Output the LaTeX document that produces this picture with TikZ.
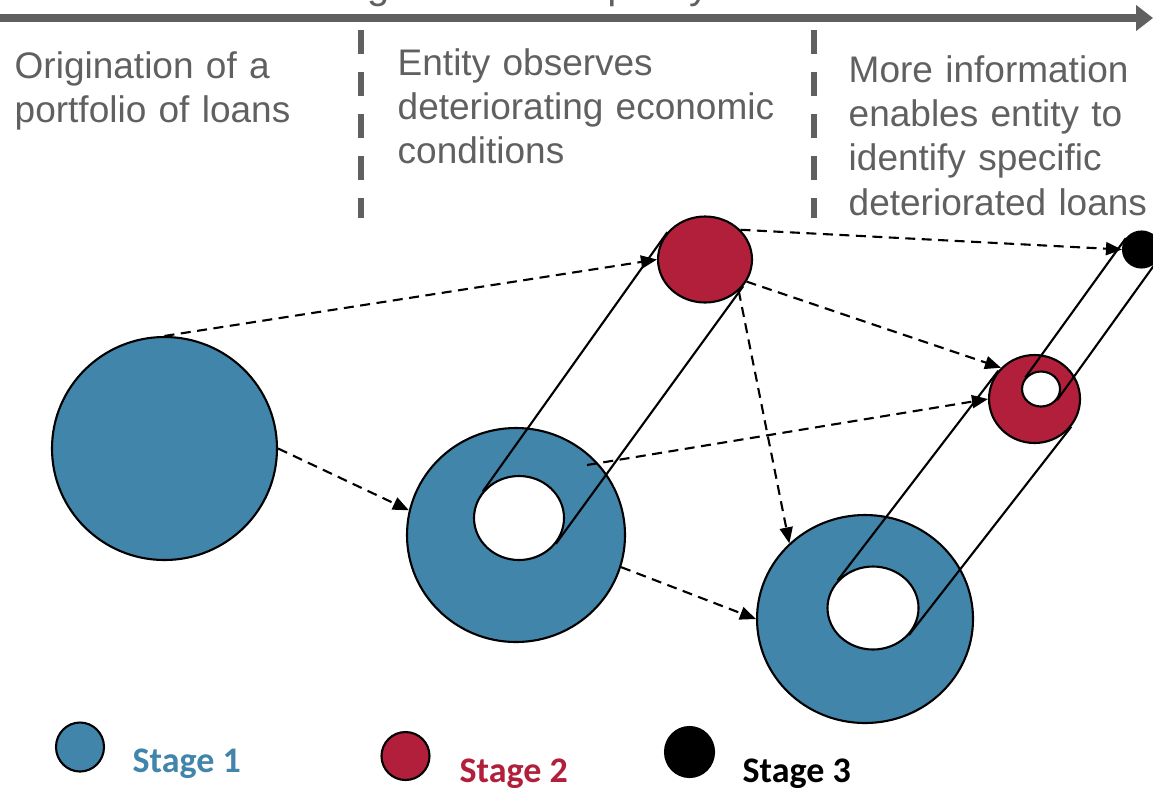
\documentclass[tikz,border=0pt]{standalone}
\usepackage{fontspec}
\setmainfont{Liberation Sans}
\newfontfamily\legendfont{Carlito}
\usetikzlibrary{shapes.geometric,arrows.meta}
\definecolor{stageblue}{RGB}{66,133,170}
\definecolor{stagered}{RGB}{177,31,58}
\definecolor{notegray}{RGB}{96,96,96}
\tikzset{
    loan/.style={ellipse, draw=black, line width=0.6pt, inner sep=0pt},
    stageone/.style={loan, fill=stageblue},
    stagetwo/.style={loan, fill=stagered},
    stagethree/.style={loan, fill=black},
    hole/.style={loan, fill=white},
    tangent/.style={draw, line width=0.6pt},
    flow/.style={draw, line width=0.6pt, dash pattern=on 0.1cm off 0.065cm, -{Triangle[length=0.16cm,width=0.13cm]}},
    divider/.style={draw=notegray, line width=0.06cm, dash pattern=on 0.24cm off 0.18cm},
    note/.style={anchor=base west, inner sep=0pt, text=notegray, text width=4cm, align=left, font=\fontsize{10.53pt}{12.66pt}\selectfont},
    legend/.style={anchor=base west, inner sep=0pt, font=\legendfont\bfseries\fontsize{10.24pt}{12pt}\selectfont}
}
\begin{document}
\begin{tikzpicture}
    \useasboundingbox (0, 0) rectangle (11.53, 7.87);

    \coordinate (time start) at (0, 7.69);
    \coordinate (time end) at (11.53, 7.69);
    \draw[draw=notegray, line width=0.08cm, -{Triangle[length=0.17cm,width=0.25cm]}] (time start) -- (time end);
    \node[anchor=base west, inner sep=0pt, text=notegray, font=\fontsize{11.38pt}{13pt}\selectfont] (title) at (2.71, 7.887) {Changes in credit quality};

    \coordinate (first top) at (3.61, 7.57);
    \coordinate (first bottom) at (3.61, 5.69);
    \coordinate (second top) at (8.14, 7.57);
    \coordinate (second bottom) at (8.14, 5.69);
    \draw[divider] (first top) -- (first bottom);
    \draw[divider] (second top) -- (second bottom);

    \node[note] (origination) at (0.14, 7.09) {Origination of a\\portfolio of loans};
    \node[note] (observes) at (3.97, 7.12) {Entity observes\\deteriorating economic\\conditions};
    \node[note] (identifies) at (8.48, 7.05) {More information\\enables entity to\\identify specific\\deteriorated loans};

    \node[stageone, minimum width=2.25cm, minimum height=2.23cm] (origin) at (1.645, 3.385) {};
    \node[stageone, minimum width=2.18cm, minimum height=2.14cm] (mid outer) at (5.16, 2.52) {};
    \node[hole, minimum width=0.9cm, minimum height=0.84cm] (mid hole) at (5.19, 2.69) {};
    \node[stageone, minimum width=2.16cm, minimum height=2.08cm] (late outer) at (8.65, 1.68) {};
    \node[hole, minimum width=0.91cm, minimum height=0.83cm] (late hole) at (8.73, 1.79) {};
    \node[stagetwo, minimum width=0.94cm, minimum height=0.86cm] (watch) at (7.05, 5.275) {};
    \node[stagetwo, minimum width=0.91cm, minimum height=0.88cm] (watch outer) at (10.345, 3.88) {};
    \node[hole, minimum width=0.38cm, minimum height=0.35cm] (watch hole) at (10.41, 3.98) {};
    \node[stagethree, minimum width=0.37cm, minimum height=0.36cm] (impaired) at (11.415, 5.375) {};

    \draw[tangent] (mid hole.144.5) -- (watch.144.5);
    \draw[tangent] (mid hole.-35.5) -- (watch.-35.5);
    \draw[tangent] (late hole.142.3) -- (watch outer.142.3);
    \draw[tangent] (late hole.-37.7) -- (watch outer.-37.7);
    \draw[tangent] (watch hole.144.2) -- (impaired.144.2);
    \draw[tangent] (watch hole.-35.8) -- (impaired.-35.8);

    \coordinate (ring point) at (5.87, 3.22);
    \draw[flow] (origin.north) -- (watch.west);
    \draw[flow] (origin.east) -- (mid outer.167);
    \draw[flow] (mid outer.-17) -- (late outer.west);
    \draw[flow] (watch.40) -- (impaired.west);
    \draw[flow] (watch.-28) -- (watch outer.137);
    \draw[flow] (watch.-43) -- (late outer.135);
    \draw[flow] (ring point) -- (watch outer.west);

    \node[stageone, minimum width=0.48cm, minimum height=0.49cm] (key one) at (0.8, 0.4) {};
    \node[legend, text=stageblue] (key one text) at (1.32, 0.15) {Stage 1};
    \node[stagetwo, minimum width=0.48cm, minimum height=0.48cm] (key two) at (4.055, 0.31) {};
    \node[legend, text=stagered] (key two text) at (4.59, 0.05) {Stage 2};
    \node[stagethree, minimum width=0.49cm, minimum height=0.5cm] (key three) at (6.895, 0.35) {};
    \node[legend] (key three text) at (7.42, 0.05) {Stage 3};
\end{tikzpicture}
\end{document}
